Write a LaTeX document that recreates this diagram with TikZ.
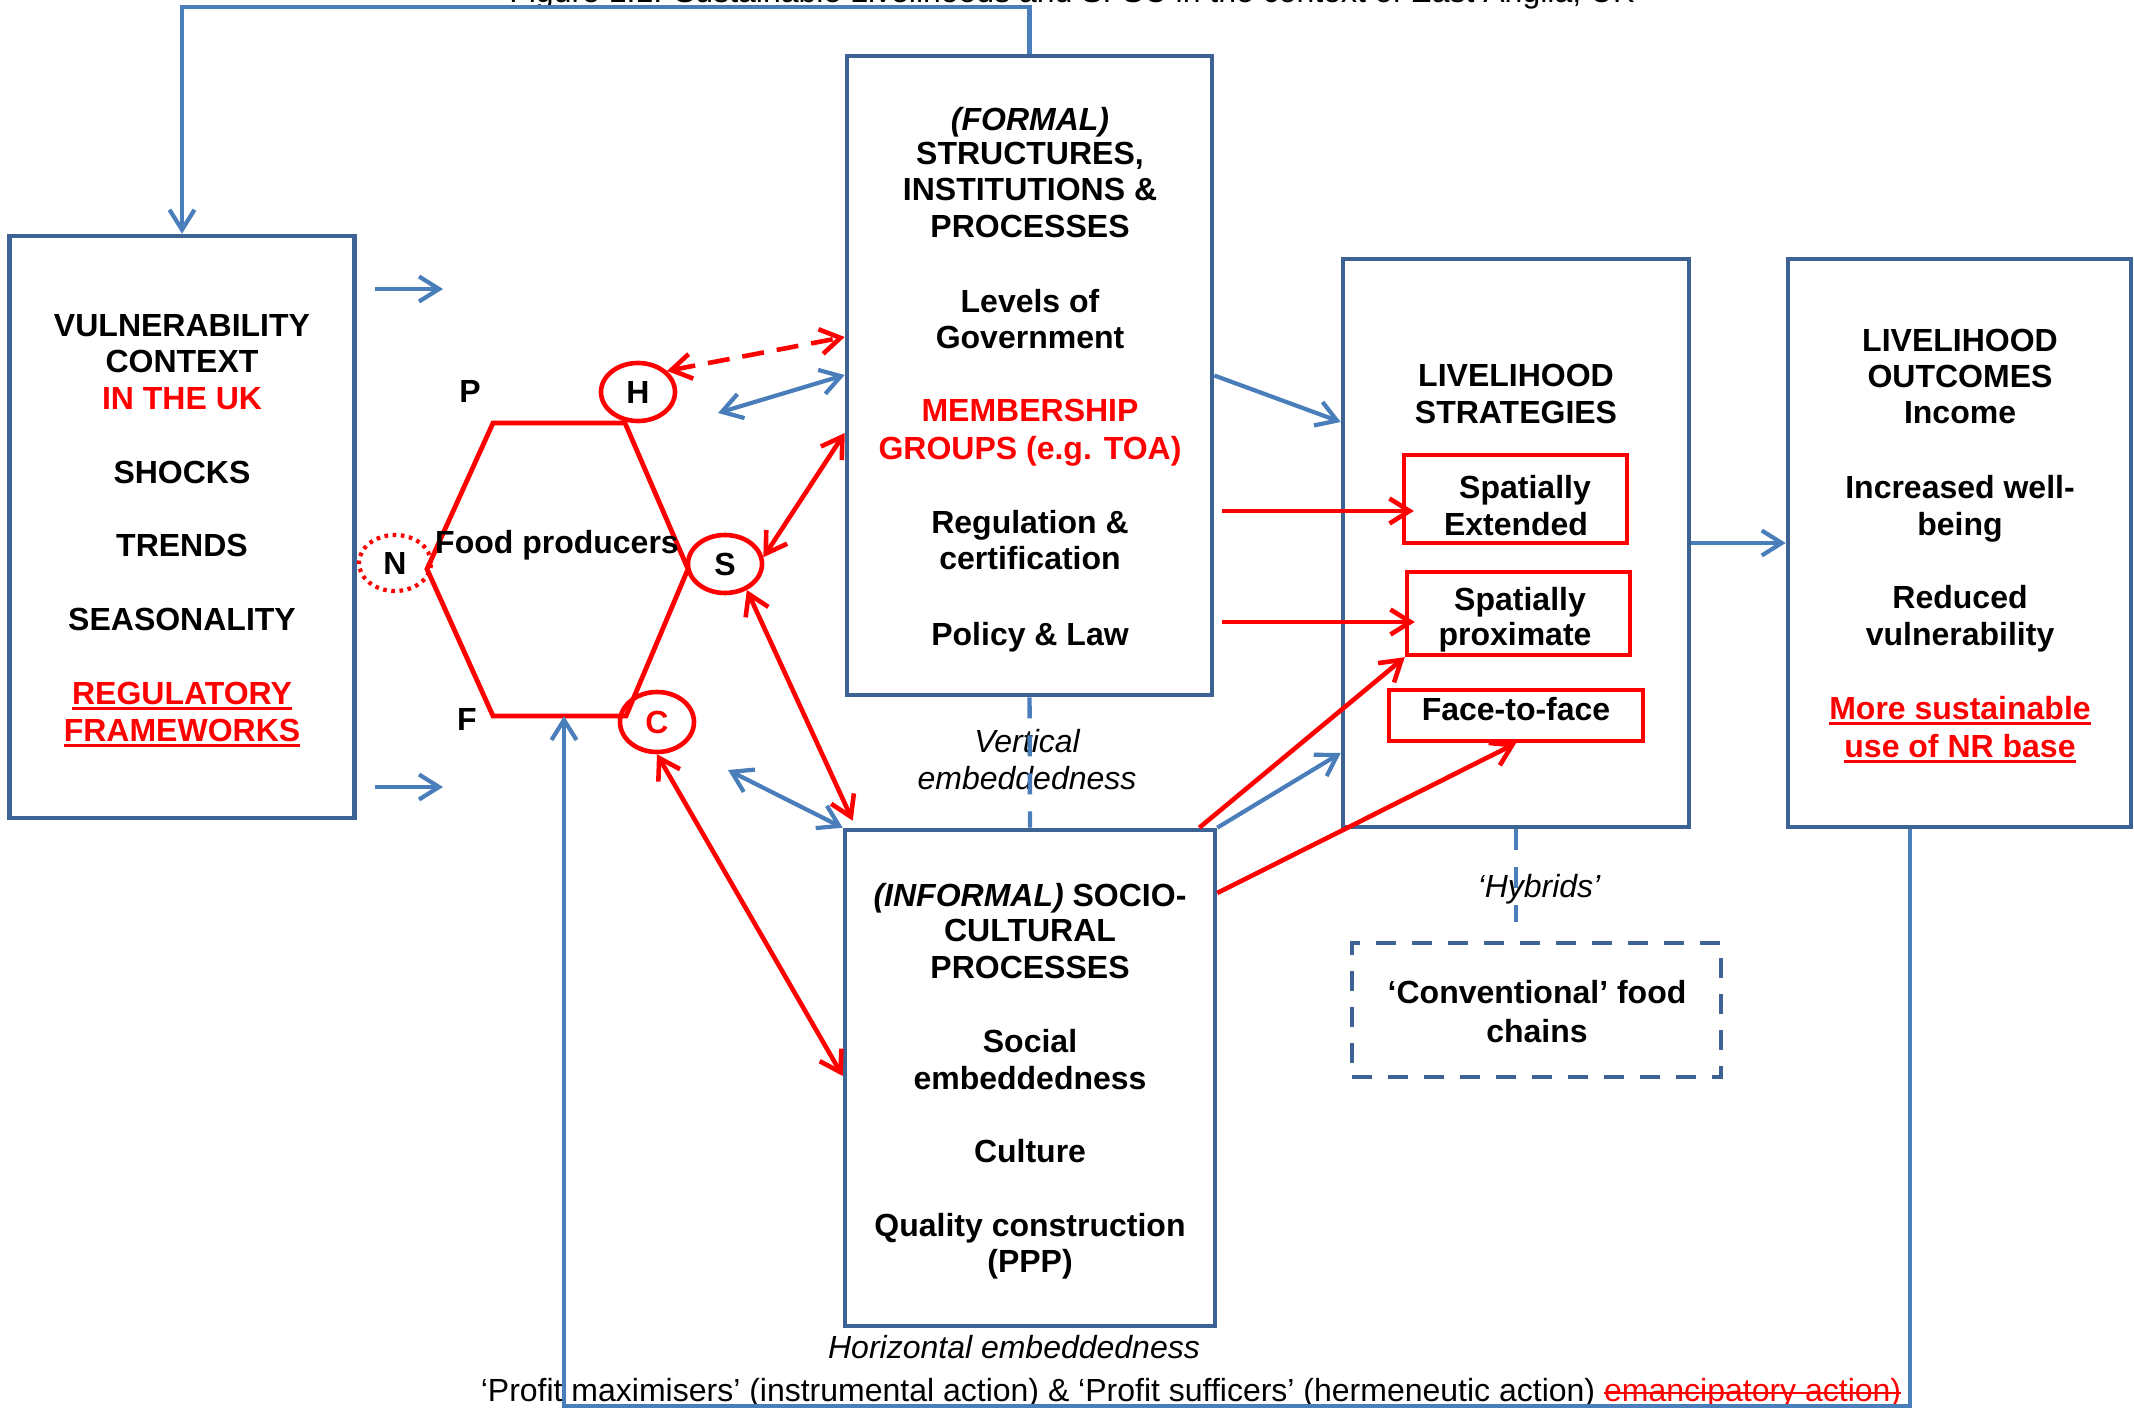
\documentclass[tikz,border=0pt]{standalone}
\usepackage{fontspec}
\setmainfont{Liberation Sans}
\usetikzlibrary{arrows.meta,shapes.geometric}
\definecolor{boxblue}{HTML}{3D6394}
\definecolor{linkblue}{HTML}{4A7EBB}
\definecolor{hotred}{HTML}{FF0000}
% red underline and red strike-through in the current colour
\newcommand{\ulred}[1]{\setbox0\hbox{#1}\rlap{\rule[-3.2pt]{\wd0}{1.6pt}}\box0}
\newcommand{\strikered}[1]{\setbox0\hbox{#1}\rlap{\rule[3.6pt]{\wd0}{0.8pt}}\box0}

\begin{document}
\begin{tikzpicture}[x=0.5pt,y=-0.5pt,
  >={Straight Barb[length=10pt,width=12.5pt]},
  panel/.style={draw=boxblue,line width=2.3pt,rectangle,inner sep=0pt},
  redpanel/.style={draw=hotred,line width=2.2pt,rectangle,inner sep=0pt},
  txt/.style={anchor=base,inner sep=0pt,font=\fontsize{16}{19}\selectfont\bfseries},
  ital/.style={anchor=base,inner sep=0pt,font=\fontsize{16}{19}\selectfont\itshape},
  plaintxt/.style={anchor=base,inner sep=0pt,font=\fontsize{16}{19}\selectfont},
  blink/.style={draw=linkblue,line width=2.1pt},
  rlink/.style={draw=hotred,line width=2.3pt},
  oval/.style={ellipse,draw=hotred,line width=2.3pt,inner sep=0pt,
    font=\fontsize{16}{19}\selectfont\bfseries},
  embed/.style={draw=linkblue,line width=2.2pt,dash pattern=on 10.5pt off 8.5pt}
]
\useasboundingbox (0,0) rectangle (2134,1411);

% ---------- title (runs off the top edge) ----------
\node[plaintxt] (title) at (1072,3) {Figure 1.1: Sustainable Livelihoods and SFSC in the context of East Anglia, UK};

% ---------- main panels ----------
\node[panel,minimum width=172.5pt,minimum height=291pt] (vuln) at (182,527) {};
\node[panel,minimum width=182.5pt,minimum height=319.5pt] (formal) at (1029.5,375.5) {};
\node[panel,minimum width=185pt,minimum height=248pt] (informal) at (1030,1078) {};
\node[panel,minimum width=173pt,minimum height=284pt] (strat) at (1516,543) {};
\node[panel,minimum width=171.5pt,minimum height=284pt] (outc) at (1959.5,543) {};
\node[redpanel,minimum width=111.5pt,minimum height=44pt] (ext) at (1515.5,499) {};
\node[redpanel,minimum width=111.5pt,minimum height=41.5pt] (prox) at (1518.5,613.5) {};
\node[redpanel,minimum width=127pt,minimum height=25.5pt] (f2f) at (1516,715.5) {};
\node[draw=boxblue,line width=2.2pt,dash pattern=on 10pt off 8pt,rectangle,inner sep=0pt,
      minimum width=184.5pt,minimum height=67pt] (conv) at (1536.5,1010) {};

% ---------- vulnerability context ----------
\node[txt] (v1) at (182,337) {VULNERABILITY};
\node[txt] (v2) at (182,373) {CONTEXT};
\node[txt,text=hotred] (v3) at (182,410) {IN THE UK};
\node[txt] (v4) at (182,483) {SHOCKS};
\node[txt] (v5) at (182,556) {TRENDS};
\node[txt] (v6) at (182,630) {SEASONALITY};
\node[txt,text=hotred] (v7) at (182,704) {\ulred{REGULATORY}};
\node[txt,text=hotred] (v8) at (182,741) {\ulred{FRAMEWORKS}};

% ---------- formal structures ----------
\node[txt] (f1) at (1030,131) {\itshape (FORMAL)};
\node[txt] (f2) at (1030,165) {STRUCTURES,};
\node[txt] (f3) at (1030,201) {INSTITUTIONS \&};
\node[txt] (f4) at (1030,238) {PROCESSES};
\node[txt] (f5) at (1030,313) {Levels of};
\node[txt] (f6) at (1030,349) {Government};
\node[txt,text=hotred] (f7) at (1030,422) {MEMBERSHIP};
\node[txt,text=hotred] (f8) at (1030,459) {GROUPS (e.g. TOA)};
\node[txt] (f9) at (1030,533) {Regulation \&};
\node[txt] (f10) at (1030,569) {certification};
\node[txt] (f11) at (1030,645) {Policy \& Law};

% ---------- informal processes ----------
\node[txt] (i1) at (1030,906) {{\itshape (INFORMAL)} SOCIO-};
\node[txt] (i2) at (1030,941) {CULTURAL};
\node[txt] (i3) at (1030,978) {PROCESSES};
\node[txt] (i4) at (1030,1052) {Social};
\node[txt] (i5) at (1030,1089) {embeddedness};
\node[txt] (i6) at (1030,1162) {Culture};
\node[txt] (i7) at (1030,1236) {Quality construction};
\node[txt] (i8) at (1030,1272) {(PPP)};

% ---------- strategies ----------
\node[txt] (s1) at (1516,387) {LIVELIHOOD};
\node[txt] (s2) at (1516,424) {STRATEGIES};
\node[txt] (e1) at (1525,499) {Spatially};
\node[txt] (e2) at (1516,535) {Extended};
\node[txt] (p1) at (1520,610) {Spatially};
\node[txt] (p2) at (1515,645) {proximate};
\node[txt] (ff) at (1516,720) {Face-to-face};

% ---------- outcomes ----------
\node[txt] (o1) at (1960,352) {LIVELIHOOD};
\node[txt] (o2) at (1960,388) {OUTCOMES};
\node[txt] (o3) at (1960,424) {Income};
\node[txt] (o4) at (1960,499) {Increased well-};
\node[txt] (o5) at (1960,535) {being};
\node[txt] (o6) at (1960,608) {Reduced};
\node[txt] (o7) at (1960,645) {vulnerability};
\node[txt,text=hotred] (o8) at (1960,719) {\ulred{More sustainable}};
\node[txt,text=hotred] (o9) at (1960,757) {\ulred{use of NR base}};

% ---------- conventional chains ----------
\node[txt] (c1) at (1537,1003) {‘Conventional’ food};
\node[txt] (c2) at (1537,1042) {chains};

% ---------- embeddedness labels ----------
\node[ital] (ve1) at (1027,752) {Vertical};
\node[ital] (ve2) at (1027,789) {embeddedness};
\node[ital] (hyb) at (1539,897) {‘Hybrids’};
\node[ital] (he) at (1014,1358) {Horizontal embeddedness};
\node[plaintxt] (act) at (1191,1401) {‘Profit maximisers’ (instrumental action) \& ‘Profit sufficers’ (hermeneutic action) {\color{hotred}\strikered{emancipatory action)}}};

% ---------- food producers hexagon ----------
\draw[hotred,line width=2.4pt,line join=miter]
  (493,423) -- (625,423) -- (688,569) -- (626,716) -- (493,716) -- (427,569) -- cycle;
\coordinate (hexbot) at (564,716);
\node[txt] (fp) at (557,553) {Food producers};
\node[txt] (lp) at (470,403) {P};
\node[txt] (lf) at (467,730) {F};
\node[oval,minimum width=37pt,minimum height=29pt] (h) at (638,392) {H};
\node[oval,minimum width=37pt,minimum height=29pt] (s) at (725,564) {S};
\node[oval,minimum width=37pt,minimum height=30pt,text=hotred] (c) at (657,722) {C};
\node[oval,minimum width=36pt,minimum height=28pt,line width=2.1pt,
      dash pattern=on 1.8pt off 2.3pt] (n) at (395,563) {N};

% ---------- free ends ----------
\coordinate (topbend) at (182,7);
\coordinate (fbturn) at (564,1406);
\coordinate (va1) at (375,289);
\coordinate (vb1) at (443,289);
\coordinate (va2) at (375,787);
\coordinate (vb2) at (443,787);
\coordinate (bl1) at (718,413);
\coordinate (bl2) at (728,770);
\coordinate (rs1) at (1222,511);
\coordinate (rs2) at (1222,622);

% ---------- feedback loops ----------
\draw[blink,->] (formal.north) |- (topbend) -- (vuln.north);
\draw[blink,->] (outc.south -| 1910,0) |- (fbturn) -- (hexbot);

% ---------- blue links ----------
\draw[blink,->] (va1) -- (vb1);
\draw[blink,->] (va2) -- (vb2);
\draw[blink,<->] (bl1) -- (formal.west |- 0,375);
\draw[blink,<->] (bl2) -- (informal.north west);
\draw[blink,->] (formal.east) -- (strat.west |- 0,422);
\draw[blink,->] (informal.north east) -- (strat.west |- 0,753);
\draw[blink,->] (strat.east) -- (outc.west);

% ---------- embeddedness axes ----------
\draw[embed] (formal.south) -- (informal.north);
\draw[embed] (strat.south) -- ++(0,93);

% ---------- red links ----------
\draw[rlink,<->,dash pattern=on 11pt off 6.5pt] (h.36) -- (formal.west |- 0,337);
\draw[rlink,<->] (s.10) -- (formal.west |- 0,433);
\draw[rlink,<->] (s.-50) -- ([xshift=5pt,yshift=3.5pt]informal.north west);
\draw[rlink,<->] (c.south) -- (informal.west |- 0,1076);
\draw[rlink,->,shorten >=-6pt] (rs1) -- (ext.west |- rs1);
\draw[rlink,->,shorten >=-5pt] (rs2) -- (prox.west |- rs2);
\draw[rlink,->] ([xshift=-9pt]informal.north east) -- (prox.south west);
\draw[rlink,->] (informal.east |- 0,893) -- (f2f.south);
\end{tikzpicture}
\end{document}
